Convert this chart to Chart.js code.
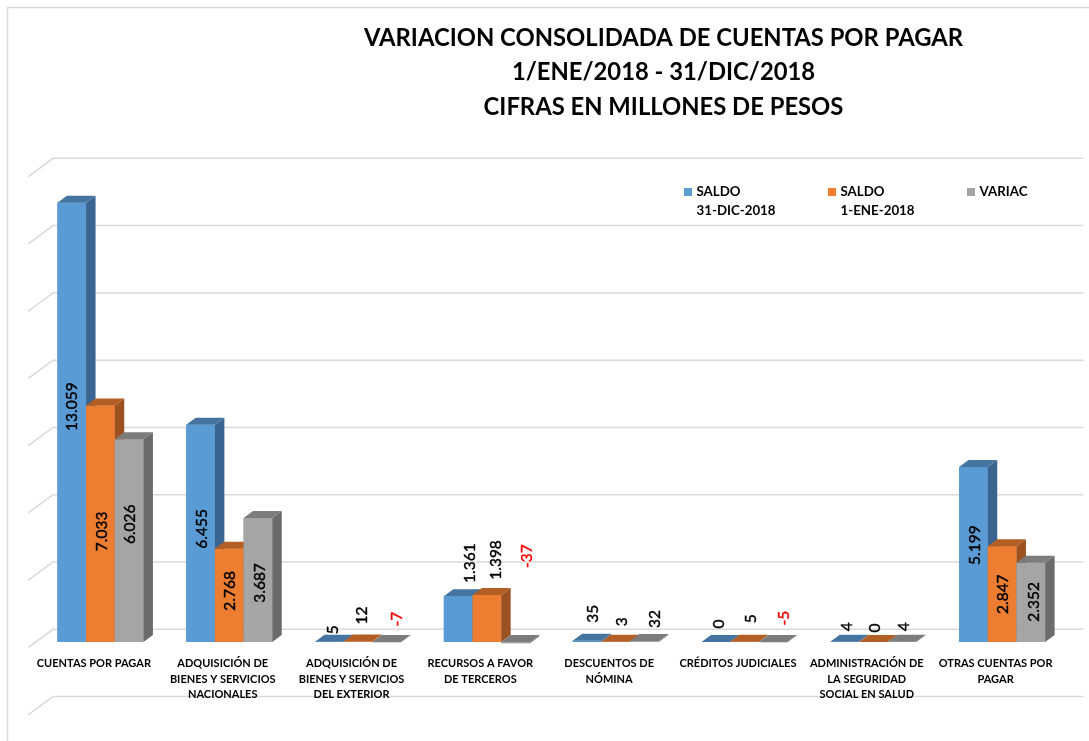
<!DOCTYPE html>
<html>
<head>
<meta charset="utf-8">
<script src="https://cdn.jsdelivr.net/npm/chart.js@4"></script>
<style>
    body { margin: 0; background: #fff; }
    canvas { display: block; }
</style>
</head>
<body>
<canvas id="chart_cuentas" width="1089" height="741"></canvas>
<script>
const categories = [
    'CUENTAS POR PAGAR',
    ['ADQUISICIÓN DE', 'BIENES Y SERVICIOS', 'NACIONALES'],
    ['ADQUISICIÓN DE', 'BIENES Y SERVICIOS', 'DEL EXTERIOR'],
    ['RECURSOS A FAVOR', 'DE TERCEROS'],
    ['DESCUENTOS DE', 'NÓMINA'],
    'CRÉDITOS JUDICIALES',
    ['ADMINISTRACIÓN DE', 'LA SEGURIDAD', 'SOCIAL EN SALUD'],
    ['OTRAS CUENTAS POR', 'PAGAR']
];
const saldoDic = [13059, 6455, 5, 1361, 35, 0, 4, 5199];
const saldoEne = [7033, 2768, 12, 1398, 3, 5, 0, 2847];
const variac = [6026, 3687, -7, -37, 32, -5, 4, 2352];
const seriesNames = [['SALDO', '31-DIC-2018'], ['SALDO', '1-ENE-2018'], ['VARIAC']];
const titleLines = [
    'VARIACION CONSOLIDADA DE CUENTAS POR PAGAR',
    '1/ENE/2018 - 31/DIC/2018',
    'CIFRAS EN MILLONES DE PESOS'
];

// colours: front, top, side
const faces = [
    ['#5b9bd5', '#44749f', '#3a6590'],
    ['#ed7d31', '#b35e25', '#9c5220'],
    ['#a5a5a5', '#7c7c7c', '#6b6b6b']
];
// hand placed value labels in the original, nudge from top centre of each bar
const labelDx = [
    [0, 1, 3.5, 11.5, 6, 3.5, 2, 1.5],
    [1.5, 0.5, 3.5, 9, 6, 7, 2, 1],
    [1, 2, 10, 11, 11, 11, 2, 3]
];
const labelDy = [
    [204, 104, -12, -33, -27, -18, -15, 78],
    [126, 42, -26, -35, -20, -23, -14, 48],
    [85, 65, -23, -87, -22, -24, -15, 39]
];
const legendX = [684, 828, 967];

const barDepth = { x: 9.5, y: 7 };
const wallDepth = { x: 17, y: 12.7 };
const wallFront = { x: 7.75, y: 5.5 };
const gridColor = '#d9d9d9';
const fontFamily = 'Lato, sans-serif';

function fmt(v) {
    return String(v).replace(/\B(?=(\d{3})+(?!\d))/g, '.');
}

function poly(ctx, pts, color) {
    ctx.fillStyle = color;
    ctx.beginPath();
    pts.forEach((p, i) => i ? ctx.lineTo(p[0], p[1]) : ctx.moveTo(p[0], p[1]));
    ctx.closePath();
    ctx.fill();
}

const bars3d = {
    id: 'bars3d',
    afterLayout(chart) {
        // title sits right of centre in the original
        chart.titleBlock.left = 238;
        chart.titleBlock.right = 1089;
    },
    beforeDraw(chart) {
        const ctx = chart.ctx;
        const area = chart.chartArea;
        const y = chart.scales.y;
        ctx.save();
        ctx.strokeStyle = gridColor;
        ctx.lineWidth = 1.5;
        // frame
        ctx.beginPath();
        ctx.moveTo(7.5, 741);
        ctx.lineTo(7.5, 7.5);
        ctx.lineTo(1089, 7.5);
        ctx.stroke();
        // back wall grid plus the slanted side wall, under the axis labels
        y.ticks.forEach(t => {
            const py = y.getPixelForValue(t.value);
            ctx.beginPath();
            ctx.moveTo(area.left - wallFront.x, py + wallFront.y);
            ctx.lineTo(area.left + wallDepth.x, py - wallDepth.y);
            ctx.lineTo(area.right + wallDepth.x, py - wallDepth.y);
            ctx.stroke();
        });
        ctx.restore();
    },
    afterDatasetsDraw(chart) {
        const ctx = chart.ctx;
        const d = barDepth;
        // chart.js paints the first dataset last, the boxes need it the other way round
        chart.data.datasets.forEach((ds, i) => {
            const f = faces[i];
            chart.getDatasetMeta(i).data.forEach(bar => {
                bar.draw(ctx);
                const l = bar.x - bar.width / 2;
                const r = bar.x + bar.width / 2;
                const top = Math.min(bar.y, bar.base);
                const bottom = Math.max(bar.y, bar.base);
                poly(ctx, [[r, bottom], [r + d.x, bottom - d.y], [r + d.x, top - d.y], [r, top]], f[2]);
                poly(ctx, [[l, top], [l + d.x, top - d.y], [r + d.x, top - d.y], [r, top]], f[1]);
            });
        });
    },
    afterDraw(chart) {
        const ctx = chart.ctx;
        ctx.save();
        // value labels
        chart.data.datasets.forEach((ds, i) => {
            chart.getDatasetMeta(i).data.forEach((bar, j) => {
                const v = ds.data[j];
                const color = v < 0 ? '#ff0000' : '#000';
                ctx.save();
                ctx.translate(bar.x + labelDx[i][j], bar.y + labelDy[i][j]);
                ctx.rotate(-Math.PI / 2);
                ctx.font = '15.5px ' + fontFamily;
                ctx.textAlign = 'center';
                ctx.textBaseline = 'middle';
                ctx.fillStyle = color;
                ctx.strokeStyle = color;
                ctx.lineWidth = 0.4;
                ctx.fillText(fmt(v), 0, 0);
                ctx.strokeText(fmt(v), 0, 0);
                ctx.restore();
            });
        });
        // legend, two lines per entry so the built in one does not fit
        ctx.font = 'bold 13.3px ' + fontFamily;
        ctx.textBaseline = 'middle';
        ctx.textAlign = 'left';
        seriesNames.forEach((lines, i) => {
            ctx.fillStyle = faces[i][0];
            ctx.fillRect(legendX[i], 188, 8, 8);
            ctx.fillStyle = '#000';
            lines.forEach((line, k) => ctx.fillText(line, legendX[i] + 12.5, 191.5 + k * 19.5));
        });
        ctx.restore();
    }
};

const ctx = document.querySelector('#chart_cuentas').getContext('2d');
const chart = new Chart(ctx, {
    type: 'bar',
    data: {
        labels: categories,
        datasets: [
            { label: seriesNames[0].join(' '), data: saldoDic, backgroundColor: faces[0][0] },
            { label: seriesNames[1].join(' '), data: saldoEne, backgroundColor: faces[1][0] },
            { label: seriesNames[2].join(' '), data: variac, backgroundColor: faces[2][0] }
        ]
    },
    options: {
        responsive: false,
        animation: false,
        barPercentage: 1,
        categoryPercentage: 0.668,
        layout: {
            padding: { left: 36, right: 22.5, top: 0, bottom: 31.75 }
        },
        scales: {
            x: {
                position: { y: 0 },
                grid: { display: false },
                border: { display: false },
                ticks: {
                    autoSkip: false,
                    maxRotation: 0,
                    minRotation: 0,
                    labelOffset: -6.5,
                    padding: 6,
                    color: '#000',
                    font: { family: fontFamily, size: 11, weight: 'bold', lineHeight: 1.41 }
                }
            },
            y: {
                display: false,
                min: -2000,
                max: 14000,
                ticks: { stepSize: 2000 }
            }
        },
        plugins: {
            legend: { display: false },
            tooltip: { enabled: false },
            title: {
                display: true,
                text: titleLines,
                color: '#000',
                font: { family: fontFamily, size: 23.8, weight: 'bold', lineHeight: 1.45 },
                padding: { top: 21, bottom: 46.5 }
            }
        }
    },
    plugins: [bars3d]
});
</script>
</body>
</html>
